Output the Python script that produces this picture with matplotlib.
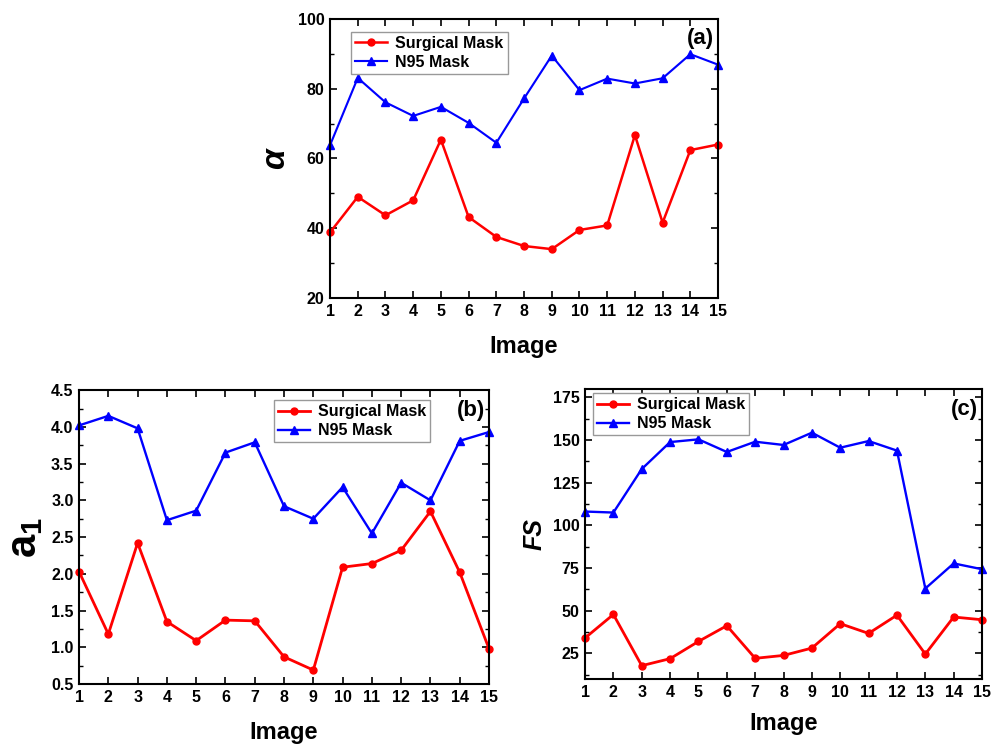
import matplotlib
matplotlib.use('Agg')
import matplotlib.pyplot as plt
from matplotlib.ticker import MultipleLocator

plt.rcParams['font.family'] = ['Liberation Sans', 'DejaVu Sans']
plt.rcParams['font.weight'] = 'bold'
plt.rcParams['mathtext.fontset'] = 'custom'
plt.rcParams['mathtext.rm'] = 'Liberation Sans:bold'
plt.rcParams['mathtext.bf'] = 'Liberation Sans:bold'
plt.rcParams['mathtext.it'] = 'Liberation Sans:bold:italic'

images = list(range(1, 16))

# alpha
alpha_surgical = [38.8, 49.0, 43.7, 48.0, 65.4, 43.2, 37.5, 34.9, 34.0, 39.5, 40.8, 66.7, 41.6, 62.4, 64.0]
alpha_n95 = [63.8, 83.1, 76.1, 72.2, 74.8, 70.2, 64.5, 77.2, 89.5, 79.6, 82.9, 81.5, 83.0, 89.9, 86.9]

# a1
a1_surgical = [2.03, 1.18, 2.42, 1.35, 1.09, 1.37, 1.36, 0.87, 0.69, 2.09, 2.14, 2.32, 2.85, 2.02, 0.98]
a1_n95 = [4.02, 4.15, 3.98, 2.73, 2.86, 3.65, 3.79, 2.92, 2.75, 3.18, 2.55, 3.24, 3.00, 3.81, 3.93]

# FS
fs_surgical = [34.0, 47.8, 17.8, 21.9, 32.0, 41.2, 22.1, 23.8, 28.1, 42.4, 36.7, 47.4, 24.6, 46.3, 44.7]
fs_n95 = [108.1, 107.5, 133.0, 148.8, 150.4, 143.0, 149.0, 147.1, 154.3, 145.5, 149.4, 143.8, 63.0, 77.7, 74.3]


def panel(ax, ys, yn, ylim, major, minor, ylabel, ylabel_size, tag, leg_anchor, lw, xpad):
    ax.plot(images, ys, color='red', marker='o', markersize=5, lw=lw, label='Surgical Mask', clip_on=False)
    ax.plot(images, yn, color='blue', marker='^', markersize=5.5, lw=lw * 0.85, label='N95 Mask', clip_on=False)
    ax.set_xlim(1, 15)
    ax.set_ylim(*ylim)
    ax.set_xticks(images)
    ax.yaxis.set_major_locator(MultipleLocator(major))
    ax.yaxis.set_minor_locator(MultipleLocator(minor))
    ax.tick_params(which='both', direction='in', top=True, right=True, labelsize=11.5, pad=4)
    ax.tick_params(which='major', length=5, width=1.2)
    ax.tick_params(which='minor', length=3, width=1.0)
    for s in ax.spines.values():
        s.set_linewidth(1.5)
    ax.set_xlabel('Image', fontsize=17, fontweight='bold', labelpad=xpad)
    ax.set_ylabel(ylabel, fontsize=ylabel_size, fontweight='bold')
    ax.text(0.99, 0.93, tag, transform=ax.transAxes, ha='right', va='center',
            fontsize=16, fontweight='bold')
    ax.legend(loc='upper left', bbox_to_anchor=leg_anchor, fontsize=11.5, frameon=True,
              fancybox=False, edgecolor='#999999', framealpha=1, handlelength=2.0,
              borderpad=0.25, labelspacing=0.25, handletextpad=0.5, borderaxespad=0)


fig = plt.figure(figsize=(9.98, 7.44), dpi=100)

ax_a = fig.add_axes([0.3307, 0.5995, 0.3888, 0.375])
panel(ax_a, alpha_surgical, alpha_n95, (20, 100), 20, 10,
      r'$\mathit{\alpha}$', 24, '(a)', (0.055, 0.955), 1.8, 12)

ax_b = fig.add_axes([0.0792, 0.0806, 0.4108, 0.395])
panel(ax_b, a1_surgical, a1_n95, (0.5, 4.5), 0.5, 0.25,
      r'$\mathbf{a}_\mathbf{1}$', 30, '(b)', (0.475, 0.965), 2.0, 12)

ax_c = fig.add_axes([0.5862, 0.0874, 0.3978, 0.390])
panel(ax_c, fs_surgical, fs_n95, (10, 180), 25, 12.5,
      'FS', 18, '(c)', (0.02, 0.985), 2.0, 9)
ax_c.yaxis.label.set_fontstyle('italic')

fig.savefig('out.png', dpi=100)
